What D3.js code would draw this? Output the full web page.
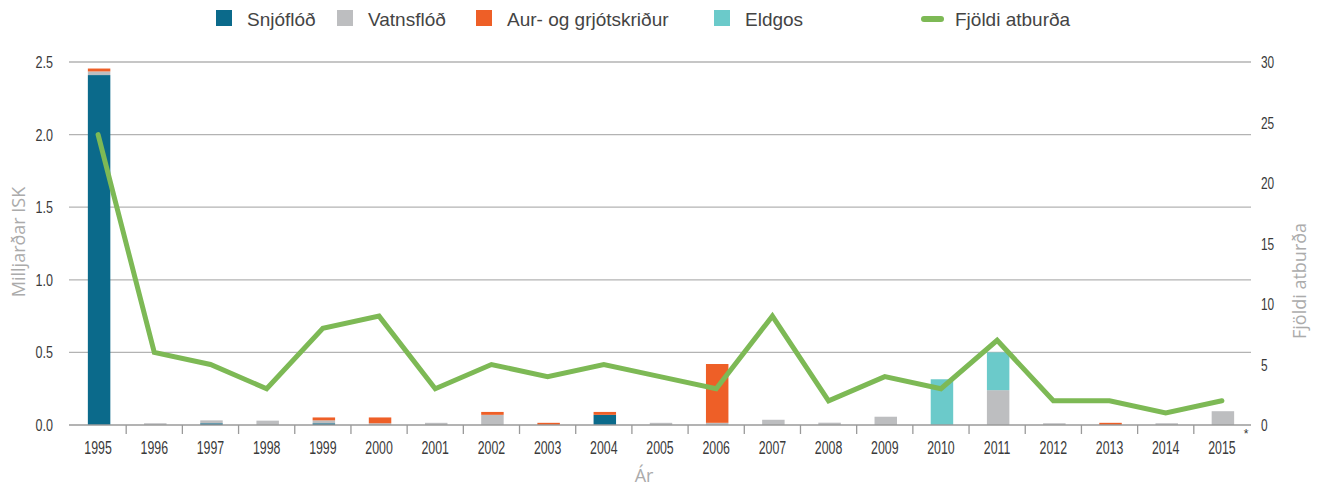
<!DOCTYPE html>
<html lang="is">
<head>
<meta charset="utf-8">
<title>Tjón af náttúruhamförum</title>
<script src="https://cdn.jsdelivr.net/npm/d3@7"></script>
<style>
    html, body { margin: 0; padding: 0; background: #fff; }
    svg { display: block; }
    .legend text { font-family: "Liberation Sans", Arial, sans-serif; font-size: 19px; fill: #444; }
    .tick-label { font-family: "Liberation Sans", Arial, sans-serif; fill: #3a3a3a; }
    .axis-title { font-family: "Open Sans", "Liberation Sans", sans-serif; font-size: 18px; fill: #ababab; }
</style>
</head>
<body>
<svg id="chart" width="1319" height="488"></svg>
<script>
// Data
const years = ['1995', '1996', '1997', '1998', '1999', '2000', '2001', '2002', '2003', '2004',
    '2005', '2006', '2007', '2008', '2009', '2010', '2011', '2012', '2013', '2014', '2015'];

// Milljarðar ISK per type
const snjoflod  = [2.41, 0, 0.012, 0, 0.012, 0, 0, 0, 0, 0.07, 0, 0, 0, 0, 0, 0, 0, 0, 0, 0, 0];
const vatnsflod = [0.025, 0.012, 0.02, 0.03, 0.02, 0.012, 0.015, 0.07, 0, 0, 0.015, 0.015, 0.036, 0.016, 0.057, 0, 0.24, 0.012, 0, 0.012, 0.095];
const aurskridur = [0.02, 0, 0, 0, 0.02, 0.04, 0, 0.02, 0.015, 0.02, 0, 0.405, 0, 0, 0, 0, 0, 0, 0.015, 0, 0];
const eldgos    = [0, 0, 0, 0, 0, 0, 0, 0, 0, 0, 0, 0, 0, 0, 0, 0.315, 0.26, 0, 0, 0, 0];

// Number of events (right axis)
const fjoldi = [24, 6, 5, 3, 8, 9, 3, 5, 4, 5, 4, 3, 9, 2, 4, 3, 7, 2, 2, 1, 2];

const leftTicks = [0, 0.5, 1.0, 1.5, 2.0, 2.5];
const rightTicks = [0, 5, 10, 15, 20, 25, 30];

const seriesNames = ['Snjóflóð', 'Vatnsflóð', 'Aur- og grjótskriður', 'Eldgos'];
const seriesColors = ['#0b6a8b', '#bdbec0', '#ee5f27', '#6bcaca'];
const lineName = 'Fjöldi atburða';
const lineColor = '#7db955';

document.addEventListener('DOMContentLoaded', function() {
    const svg = d3.select('#chart');

    const left = 70, right = 1250, top = 62, bottom = 425;

    const x = d3.scaleBand()
        .domain(years)
        .range([left, right])
        .paddingInner(0.6)
        .paddingOuter(0.3);

    const yLeft = d3.scaleLinear().domain([0, 2.5]).range([bottom, top]);
    const yRight = d3.scaleLinear().domain([0, 30]).range([bottom, top]);

    // Gridlines
    svg.append('g')
        .selectAll('line')
        .data(leftTicks.filter(d => d > 0))
        .join('line')
        .attr('x1', left - 1)
        .attr('x2', right + 1)
        .attr('y1', d => yLeft(d))
        .attr('y2', d => yLeft(d))
        .attr('stroke', '#b3b3b3')
        .attr('stroke-width', 1.3);

    // Stacked bars
    const rows = years.map((yr, i) => ({
        year: yr,
        s0: snjoflod[i], s1: vatnsflod[i], s2: aurskridur[i], s3: eldgos[i]
    }));
    const stack = d3.stack().keys(['s0', 's1', 's2', 's3']);
    const stacked = stack(rows);

    svg.append('g')
        .selectAll('g')
        .data(stacked)
        .join('g')
        .attr('fill', (d, i) => seriesColors[i])
        .selectAll('rect')
        .data(d => d.filter(p => p[1] - p[0] > 0))
        .join('rect')
        .attr('x', d => x(d.data.year) + 1)
        .attr('width', x.bandwidth())
        .attr('y', d => yLeft(d[1]))
        .attr('height', d => yLeft(d[0]) - yLeft(d[1]));

    // X axis line and ticks between categories
    const axisG = svg.append('g');
    axisG.append('line')
        .attr('x1', left - 1)
        .attr('x2', right + 1)
        .attr('y1', bottom)
        .attr('y2', bottom)
        .attr('stroke', '#9a9a9a')
        .attr('stroke-width', 1.5);

    const boundaries = years.slice(1).map(yr => x(yr) - x.step() * x.paddingInner() / 2);
    axisG.selectAll('.xtick')
        .data(boundaries)
        .join('line')
        .attr('class', 'xtick')
        .attr('x1', d => d)
        .attr('x2', d => d)
        .attr('y1', bottom)
        .attr('y2', bottom + 9)
        .attr('stroke', '#9a9a9a')
        .attr('stroke-width', 1.3);

    // condensed year labels (horizontal squeeze)
    axisG.selectAll('.xlabel')
        .data(years)
        .join('text')
        .attr('class', 'tick-label')
        .attr('transform', d => `translate(${x(d) + x.bandwidth() / 2},454) scale(0.65,1)`)
        .attr('text-anchor', 'middle')
        .attr('font-size', 19)
        .text(d => d);

    axisG.append('text')
        .attr('x', 1246)
        .attr('y', 438)
        .attr('text-anchor', 'middle')
        .attr('font-family', 'Liberation Sans, sans-serif')
        .attr('font-size', 12)
        .attr('fill', '#333')
        .text('*');

    // Left axis labels
    svg.append('g')
        .selectAll('text')
        .data(leftTicks)
        .join('text')
        .attr('class', 'tick-label')
        .attr('transform', d => `translate(53,${yLeft(d) + 6}) scale(0.74,1)`)
        .attr('text-anchor', 'end')
        .attr('font-size', 17)
        .text(d => d3.format('.1f')(d));

    // Right axis labels
    svg.append('g')
        .selectAll('text')
        .data(rightTicks)
        .join('text')
        .attr('class', 'tick-label')
        .attr('transform', d => `translate(1261,${yRight(d) + 6}) scale(0.7,1)`)
        .attr('text-anchor', 'start')
        .attr('font-size', 17)
        .text(d => d);

    // Line: number of events
    const line = d3.line()
        .x((d, i) => x(years[i]) + x.bandwidth() / 2)
        .y(d => yRight(d));

    svg.append('path')
        .datum(fjoldi)
        .attr('d', line)
        .attr('fill', 'none')
        .attr('stroke', lineColor)
        .attr('stroke-width', 5)
        .attr('stroke-linejoin', 'miter')
        .attr('stroke-linecap', 'round');

    // Axis titles
    svg.append('text')
        .attr('class', 'axis-title')
        .attr('transform', 'translate(25,242) rotate(-90)')
        .attr('text-anchor', 'middle')
        .text('Milljarðar ISK');

    svg.append('text')
        .attr('class', 'axis-title')
        .attr('transform', 'translate(1306,281) rotate(-90)')
        .attr('text-anchor', 'middle')
        .text(lineName);

    svg.append('text')
        .attr('class', 'axis-title')
        .attr('x', 644)
        .attr('y', 482)
        .attr('text-anchor', 'middle')
        .text('Ár');

    // Legend
    const legendX = [216, 337, 476, 714];
    const legend = svg.append('g').attr('class', 'legend');
    seriesNames.forEach((name, i) => {
        legend.append('rect')
            .attr('x', legendX[i])
            .attr('y', 10)
            .attr('width', 16)
            .attr('height', 16)
            .attr('fill', seriesColors[i]);
        legend.append('text')
            .attr('x', legendX[i] + 31)
            .attr('y', 26)
            .text(name);
    });
    legend.append('line')
        .attr('x1', 924)
        .attr('x2', 941)
        .attr('y1', 19)
        .attr('y2', 19)
        .attr('stroke', lineColor)
        .attr('stroke-width', 6)
        .attr('stroke-linecap', 'round');
    legend.append('text')
        .attr('x', 955)
        .attr('y', 26)
        .text(lineName);
});
</script>
</body>
</html>
